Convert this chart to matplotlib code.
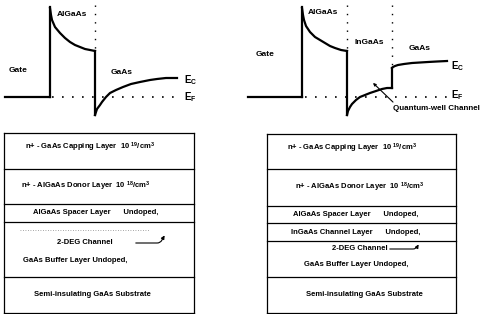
import matplotlib
matplotlib.use('Agg')
import matplotlib.pyplot as plt
import numpy as np

plt.rcParams['font.family'] = ['Liberation Sans', 'DejaVu Sans']
plt.rcParams['mathtext.default'] = 'regular'

# ---- band diagram points (pixel coords, y down) ----
# left: AlGaAs / GaAs HEMT
l_gate_x = [5, 50]
l_algaas_x = [50, 51, 52, 55, 60, 65, 70, 75, 80, 85, 90, 95]
l_algaas_y = [8, 15, 20, 27, 33, 38, 42, 45, 47, 49, 50, 51]
l_gaas_x = [95, 96, 97, 100, 102, 106, 110, 116, 123, 131, 140, 150, 157, 166, 177]
l_gaas_y = [115, 112, 109, 105, 102, 97, 93, 90, 87, 84, 82, 80, 79, 78, 78]

# right: pseudomorphic AlGaAs / InGaAs / GaAs
r_gate_x = [248, 302]
r_algaas_x = [302, 303, 304, 306, 310, 315, 320, 325, 330, 335, 341, 347]
r_algaas_y = [8, 15, 20, 26, 32, 37, 40, 43, 46, 48, 50, 51]
r_ingaas_x = [347, 348, 350, 352, 356, 360, 365, 370, 376, 382, 387, 392]
r_ingaas_y = [115, 111, 107, 104, 100, 97, 95, 93, 91, 89, 88, 88]
r_gaas_x = [392, 393, 395, 398, 404, 412, 420, 428, 437, 447]
r_gaas_y = [68, 67, 66, 65, 64, 63, 62.5, 62, 61.5, 61]

fermi_y = 97

# ---- layer stacks ----
l_layers = ['n+ - GaAs Capping Layer  10 $^{19}$/cm$^3$',
            'n+ - AlGaAs Donor Layer  10 $^{18}$/cm$^3$',
            'AlGaAs Spacer Layer      Undoped,',
            None,
            'Semi-insulating GaAs Substrate']
l_edges = [133, 169, 204, 222, 277, 313]

r_layers = ['n+ - GaAs Capping Layer  10 $^{19}$/cm$^3$',
            'n+ - AlGaAs Donor Layer  10 $^{18}$/cm$^3$',
            'AlGaAs Spacer Layer      Undoped,',
            'InGaAs Channel Layer      Undoped,',
            None,
            'Semi-insulating GaAs Substrate']
r_edges = [134, 169, 206, 223, 241, 277, 313]

fig = plt.figure(figsize=(4.85, 3.14), dpi=100)
ax = fig.add_axes([0, 0, 1, 1])
ax.set_xlim(0, 485)
ax.set_ylim(314, 0)
ax.axis('off')

lw = 1.6
k = 'black'
lab_fs = 6
box_fs = 5.5

# left band diagram
ax.plot(l_gate_x, [fermi_y, fermi_y], color=k, lw=lw)
ax.plot([50, 50], [fermi_y, 7], color=k, lw=lw)
ax.plot(l_algaas_x, l_algaas_y, color=k, lw=lw)
ax.plot([95, 95], [51, 115], color=k, lw=lw)
ax.plot(l_gaas_x, l_gaas_y, color=k, lw=lw)
ax.plot([52, 178], [fermi_y, fermi_y], color=k, lw=1.2, ls=(0, (1, 5)))
ax.plot([95, 95], [5, 50], color=k, lw=1.0, ls=(0, (1, 5)))

ax.text(57, 15, 'AlGaAs', fontsize=lab_fs, weight='bold', va='center')
ax.text(9, 71, 'Gate', fontsize=lab_fs, weight='bold', va='center')
ax.text(111, 73, 'GaAs', fontsize=lab_fs, weight='bold', va='center')
ax.text(184, 80, 'E$_C$', fontsize=7, weight='bold', va='center')
ax.text(184, 97, 'E$_F$', fontsize=7, weight='bold', va='center')

# right band diagram
ax.plot(r_gate_x, [fermi_y, fermi_y], color=k, lw=lw)
ax.plot([302, 302], [fermi_y, 7], color=k, lw=lw)
ax.plot(r_algaas_x, r_algaas_y, color=k, lw=lw)
ax.plot([347, 347], [51, 115], color=k, lw=lw)
ax.plot(r_ingaas_x, r_ingaas_y, color=k, lw=lw)
ax.plot([392, 392], [88, 68], color=k, lw=lw)
ax.plot(r_gaas_x, r_gaas_y, color=k, lw=lw)
ax.plot([305, 450], [fermi_y, fermi_y], color=k, lw=1.2, ls=(0, (1, 5)))
ax.plot([347, 347], [5, 50], color=k, lw=1.0, ls=(0, (1, 5)))
ax.plot([392, 392], [5, 66], color=k, lw=1.0, ls=(0, (1, 5)))

ax.text(308, 13, 'AlGaAs', fontsize=lab_fs, weight='bold', va='center')
ax.text(355, 43, 'InGaAs', fontsize=lab_fs, weight='bold', va='center')
ax.text(409, 48, 'GaAs', fontsize=lab_fs, weight='bold', va='center')
ax.text(256, 54, 'Gate', fontsize=lab_fs, weight='bold', va='center')
ax.text(451, 66, 'E$_C$', fontsize=7, weight='bold', va='center')
ax.text(451, 95, 'E$_F$', fontsize=7, weight='bold', va='center')
ax.annotate('', xy=(371, 81), xytext=(395, 104),
            arrowprops=dict(arrowstyle='-|>', color=k, lw=0.8,
                            mutation_scale=4))
ax.text(393, 109, 'Quantum-well Channel', fontsize=5.8, weight='bold',
        va='center')

# layer stacks
def stack(x0, x1, edges, labels, centers):
    for y in edges:
        ax.plot([x0, x1], [y, y], color=k, lw=0.9)
    ax.plot([x0, x0], [edges[0], edges[-1]], color=k, lw=0.9)
    ax.plot([x1, x1], [edges[0], edges[-1]], color=k, lw=0.9)
    for i, lab in enumerate(labels):
        if lab is None:
            continue
        yc = (edges[i] + edges[i + 1]) / 2
        if i == 0:
            yc = edges[i] + 14
        ax.text(centers[i], yc, lab, fontsize=box_fs, weight='bold',
                ha='center', va='center')

stack(4, 194, l_edges, l_layers, [90, 86, 96, None, 92])
stack(267, 456, r_edges, r_layers, [352, 360, 356, 356, None, 364])

# left buffer layer contents
ax.plot([20, 150], [230, 230], color='#888888', lw=0.6, ls=(0, (1, 2)))
ax.text(85, 242, '2-DEG Channel', fontsize=box_fs, weight='bold',
        ha='center', va='center')
ax.annotate('', xy=(166, 233), xytext=(133, 243),
            arrowprops=dict(arrowstyle='-|>', color=k, lw=0.8,
                            mutation_scale=5,
                            connectionstyle='angle,angleA=0,angleB=60,rad=3'))
ax.text(75, 261, 'GaAs Buffer Layer Undoped,', fontsize=box_fs, weight='bold',
        ha='center', va='center')

# right buffer layer contents
ax.text(360, 249, '2-DEG Channel', fontsize=box_fs, weight='bold',
        ha='center', va='center')
ax.annotate('', xy=(420, 242), xytext=(387, 249),
            arrowprops=dict(arrowstyle='-|>', color=k, lw=0.8,
                            mutation_scale=5,
                            connectionstyle='angle,angleA=0,angleB=60,rad=3'))
ax.text(356, 265, 'GaAs Buffer Layer Undoped,', fontsize=box_fs, weight='bold',
        ha='center', va='center')

fig.savefig('out.png', dpi=100)
